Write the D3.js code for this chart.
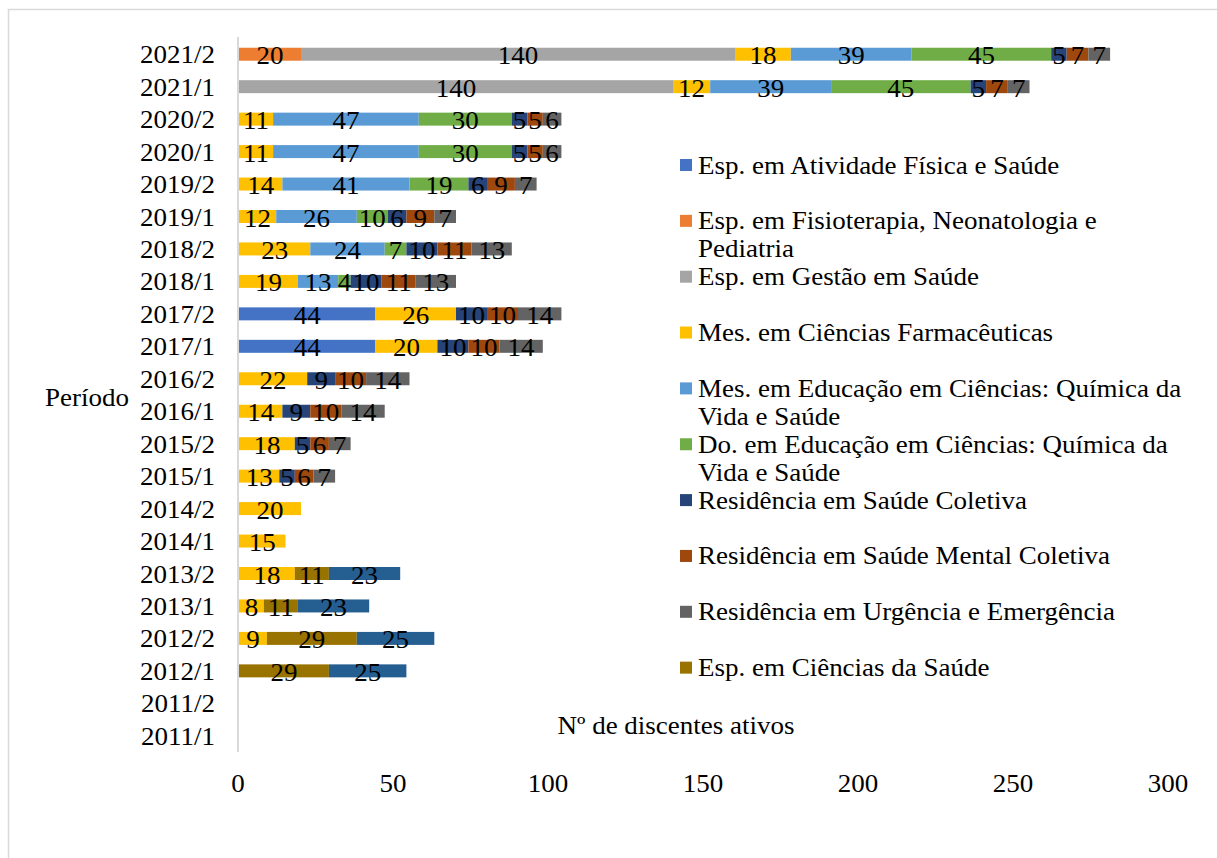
<!DOCTYPE html>
<html>
<head>
<meta charset="utf-8">
<script src="https://cdn.jsdelivr.net/npm/d3@7"></script>
<style>
  html, body { margin: 0; padding: 0; background: #fff; }
  svg { display: block; }
  text { font-family: "Liberation Serif", "Times New Roman", serif; fill: #000; }
</style>
</head>
<body>
<svg id="chart" width="1217" height="858"></svg>
<script>
// Academic periods, top to bottom
const periods = ["2021/2","2021/1","2020/2","2020/1","2019/2","2019/1","2018/2","2018/1",
  "2017/2","2017/1","2016/2","2016/1","2015/2","2015/1","2014/2","2014/1",
  "2013/2","2013/1","2012/2","2012/1","2011/2","2011/1"];

// Programme names (the last one has no legend row)
const courses = [
  "Esp. em Atividade Física e Saúde",
  "Esp. em Fisioterapia, Neonatologia e Pediatria",
  "Esp. em Gestão em Saúde",
  "Mes. em Ciências Farmacêuticas",
  "Mes. em Educação em Ciências: Química da Vida e Saúde",
  "Do. em Educação em Ciências: Química da Vida e Saúde",
  "Residência em Saúde Coletiva",
  "Residência em Saúde Mental Coletiva",
  "Residência em Urgência e Emergência",
  "Esp. em Ciências da Saúde",
  "Outro programa"
];
const legendCount = 10;

const courseColors = ["#4472C4","#ED7D31","#A5A5A5","#FFC000","#5B9BD5","#70AD47",
  "#264478","#9E480E","#636363","#997300","#255E91"];

// Active students per programme, one value per period (same order as periods)
const atividadeFisica = [0,0,0,0,0,0,0,0,44,44,0,0,0,0,0,0,0,0,0,0,0,0];
const fisioterapia    = [20,0,0,0,0,0,0,0,0,0,0,0,0,0,0,0,0,0,0,0,0,0];
const gestao          = [140,140,0,0,0,0,0,0,0,0,0,0,0,0,0,0,0,0,0,0,0,0];
const farmaceuticas   = [18,12,11,11,14,12,23,19,26,20,22,14,18,13,20,15,18,8,9,0,0,0];
const mesEducacao     = [39,39,47,47,41,26,24,13,0,0,0,0,0,0,0,0,0,0,0,0,0,0];
const doEducacao      = [45,45,30,30,19,10,7,4,0,0,0,0,0,0,0,0,0,0,0,0,0,0];
const resColetiva     = [5,5,5,5,6,6,10,10,10,10,9,9,5,5,0,0,0,0,0,0,0,0];
const resMental       = [7,7,5,5,9,9,11,11,10,10,10,10,6,6,0,0,0,0,0,0,0,0];
const resUrgencia     = [7,7,6,6,7,7,13,13,14,14,14,14,7,7,0,0,0,0,0,0,0,0];
const cienciasSaude   = [0,0,0,0,0,0,0,0,0,0,0,0,0,0,0,0,11,11,29,29,0,0];
const outroPrograma   = [0,0,0,0,0,0,0,0,0,0,0,0,0,0,0,0,23,23,25,25,0,0];

const seriesValues = [atividadeFisica, fisioterapia, gestao, farmaceuticas, mesEducacao,
  doEducacao, resColetiva, resMental, resUrgencia, cienciasSaude, outroPrograma];

const xTicks = [0, 50, 100, 150, 200, 250, 300];

const yAxisTitle = "Período";
const xAxisTitle = "Nº de discentes ativos";

// ---------------------------------------------------------------------------
const svg = d3.select("#chart");
const FONT = 25;
const STRETCH = 1.08;

// Text helper: slightly widened serif text anchored at (x, y)
function label(g, x, y, str, anchor) {
  return g.append("text")
    .attr("transform", `translate(${x},${y}) scale(${STRETCH},1)`)
    .attr("text-anchor", anchor || "start")
    .style("font-size", FONT + "px")
    .text(str);
}

// Chart area frame
svg.append("rect")
  .attr("x", 8.5).attr("y", 9.5)
  .attr("width", 1400).attr("height", 1000)
  .attr("fill", "#fff")
  .attr("stroke", "#d9d9d9").attr("stroke-width", 1.5);

const x = d3.scaleLinear().domain([0, 300]).range([238, 1168]);
const y = d3.scaleBand().domain(periods).range([38, 752])
  .paddingInner(0.6).paddingOuter(0.3);

// Build table rows for stacking
const table = periods.map((p, i) => {
  const row = { period: p };
  courses.forEach((c, k) => { row[c] = seriesValues[k][i]; });
  return row;
});
const stacked = d3.stack().keys(courses)(table);

const plot = svg.append("g");

// Category axis line
plot.append("line")
  .attr("x1", x(0)).attr("x2", x(0))
  .attr("y1", 37).attr("y2", 752)
  .attr("stroke", "#d9d9d9").attr("stroke-width", 2);

// Bars
const layers = plot.selectAll("g.layer").data(stacked).join("g")
  .attr("class", "layer")
  .attr("fill", (d, k) => courseColors[k]);

layers.selectAll("rect")
  .data(d => d.map(s => ({ s, period: s.data.period })).filter(o => o.s[1] - o.s[0] > 0))
  .join("rect")
  .attr("x", o => x(o.s[0]) + 1)
  .attr("y", o => y(o.period))
  .attr("width", o => x(o.s[1]) - x(o.s[0]))
  .attr("height", y.bandwidth());

// Value labels, centred in each segment
const labelsG = plot.append("g");
stacked.forEach(layer => {
  layer.forEach(s => {
    const v = s[1] - s[0];
    if (v > 0) {
      const cx = (x(s[0]) + x(s[1])) / 2 + 1;
      const cy = y(s.data.period) + y.bandwidth() / 2;
      label(labelsG, cx, cy + 10, String(v), "middle");
    }
  });
});

// Period labels
const yAxisG = svg.append("g");
periods.forEach(p => {
  label(yAxisG, 215, y(p) + y.bandwidth() / 2 + 9, p, "end");
});

// Value axis tick labels
const xAxisG = svg.append("g");
xTicks.forEach(t => {
  label(xAxisG, x(t), 792, String(t), "middle");
});

// Axis titles
label(svg, 45, 406, yAxisTitle, "start");
label(svg, 676, 734, xAxisTitle, "middle");

// Legend
const legend = svg.append("g");
const legX = 680, legTextX = 698, legTop = 165, legStep = 55.85, lineH = 28, maxW = 496;
courses.slice(0, legendCount).forEach((name, k) => {
  const cy = legTop + k * legStep;
  legend.append("rect")
    .attr("x", legX).attr("y", cy - 6)
    .attr("width", 12).attr("height", 12)
    .attr("fill", courseColors[k]);
  // wrap words by measured width
  const words = name.split(" ");
  const lines = [];
  let cur = "";
  const probe = label(legend, 0, -100, "", "start");
  words.forEach(w => {
    const test = cur ? cur + " " + w : w;
    probe.text(test);
    if (probe.node().getComputedTextLength() * STRETCH > maxW && cur) {
      lines.push(cur); cur = w;
    } else cur = test;
  });
  lines.push(cur);
  probe.remove();
  lines.forEach((ln, j) => {
    label(legend, legTextX, cy + 8.5 + j * lineH, ln, "start");
  });
});
</script>
</body>
</html>
